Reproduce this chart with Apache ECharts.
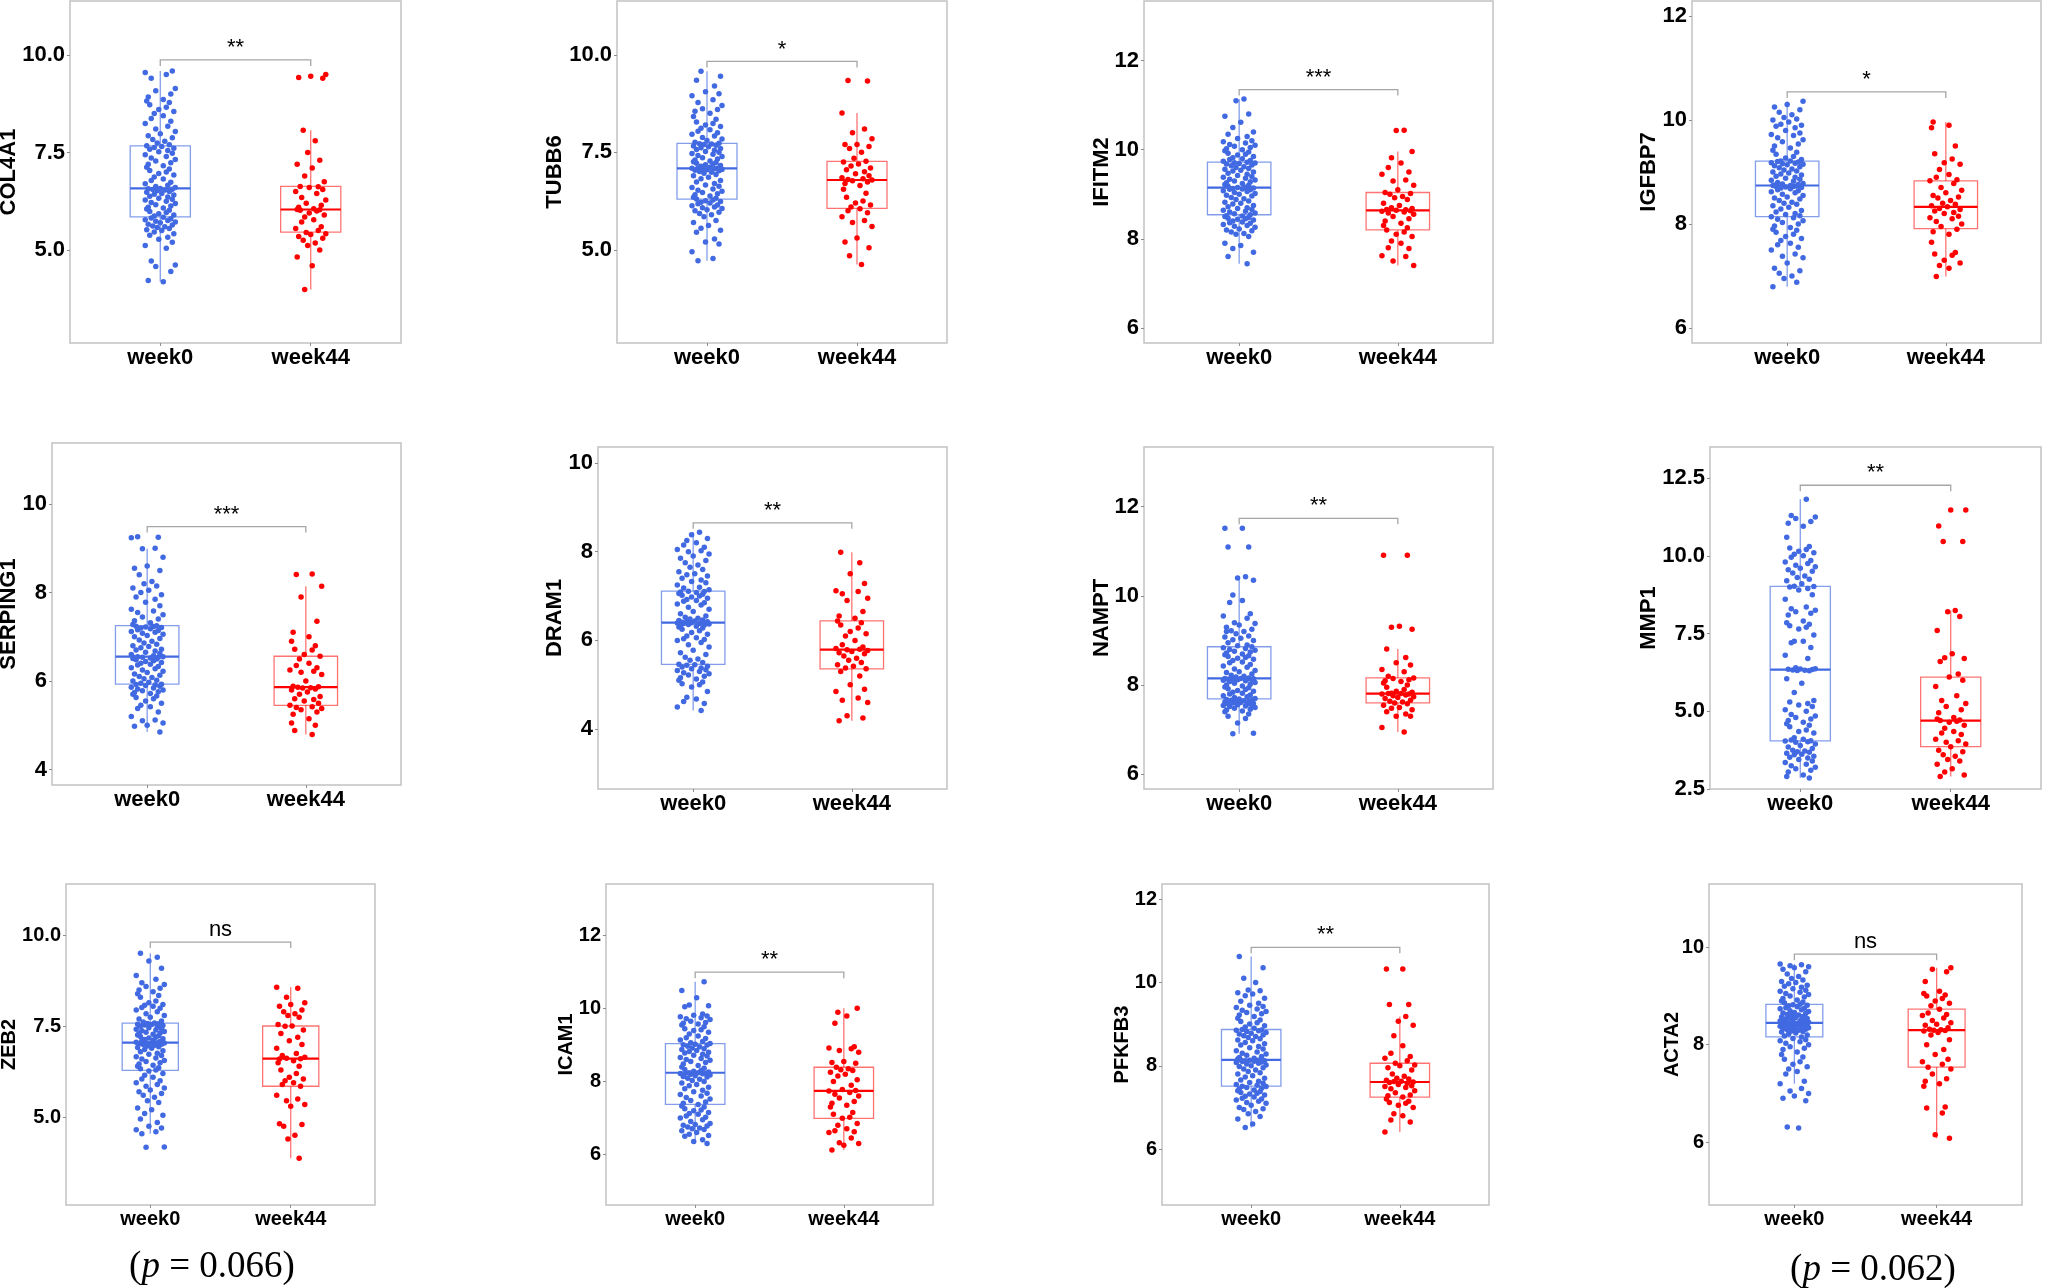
<!DOCTYPE html>
<html>
<head>
<meta charset="utf-8">
<script src="https://cdn.jsdelivr.net/npm/echarts@6/dist/echarts.min.js"></script>
<style>
html, body { margin: 0; padding: 0; background: #fff; }
#container { width: 2046px; height: 1288px; }
</style>
</head>
<body>
<div id="container"></div>
<script>
// groups and genes
var groups = ['week0', 'week44'];
var genes = ['COL4A1', 'TUBB6', 'IFITM2', 'IGFBP7', 'SERPING1', 'DRAM1', 'NAMPT', 'MMP1', 'ZEB2', 'ICAM1', 'PFKFB3', 'ACTA2'];
var signif = ['**', '*', '***', '*', '***', '**', '**', '**', 'ns', '**', '**', 'ns'];
var bracketY = [9.87, 9.83, 11.35, 10.54, 9.49, 8.65, 11.74, 12.27, 9.82, 11.0, 10.84, 9.86];
var yLimits = [[2.62, 11.38], [2.61, 11.38], [5.66, 13.34], [5.71, 12.29], [3.65, 11.38], [2.65, 10.36],
  [5.67, 13.34], [2.5, 13.5], [2.58, 11.42], [4.61, 13.42], [4.66, 12.36], [4.71, 11.3]];
var yTicks = [[5, 7.5, 10], [5, 7.5, 10], [6, 8, 10, 12], [6, 8, 10, 12], [4, 6, 8, 10], [4, 6, 8, 10],
  [6, 8, 10, 12], [2.5, 5, 7.5, 10, 12.5], [5, 7.5, 10], [6, 8, 10, 12], [6, 8, 10, 12], [6, 8, 10]];
var pValues = ['0.066', '0.062'];

// box statistics [lower whisker, Q1, median, Q3, upper whisker]
var col4a1Box = [[4.19, 5.85, 6.58, 7.67, 9.59], [3.99, 5.46, 6.04, 6.63, 8.07]];
var tubb6Box = [[4.72, 6.30, 7.09, 7.73, 9.58], [4.62, 6.06, 6.79, 7.27, 8.51]];
var ifitm2Box = [[7.44, 8.54, 9.15, 9.72, 11.14], [7.40, 8.20, 8.64, 9.04, 9.96]];
var igfbp7Box = [[6.79, 8.14, 8.74, 9.21, 10.36], [6.99, 7.91, 8.33, 8.83, 9.96]];
var serping1Box = [[4.85, 5.93, 6.55, 7.25, 8.99], [4.79, 5.45, 5.86, 6.56, 8.14]];
var dram1Box = [[4.42, 5.46, 6.40, 7.11, 8.44], [4.19, 5.36, 5.79, 6.44, 7.99]];
var namptBox = [[6.91, 7.69, 8.15, 8.86, 10.43], [6.95, 7.60, 7.81, 8.16, 8.81]];
var mmp1Box = [[2.85, 4.05, 6.34, 9.02, 11.82], [2.90, 3.86, 4.70, 6.10, 8.24]];
var zeb2Box = [[4.54, 6.29, 7.05, 7.59, 9.51], [3.87, 5.85, 6.61, 7.51, 8.58]];
var icam1Box = [[6.30, 7.37, 8.24, 9.04, 10.74], [6.12, 6.99, 7.74, 8.39, 10.01]];
var pfkfb3Box = [[6.52, 7.51, 8.14, 8.87, 10.62], [6.41, 7.25, 7.61, 8.06, 9.18]];
var acta2Box = [[7.20, 8.16, 8.45, 8.83, 9.66], [6.08, 7.54, 8.30, 8.73, 9.58]];

// sample values per gene
var col4a1W0 = [4.19, 4.22, 4.45, 4.58, 4.62, 4.72, 5.05, 5.12, 5.2, 5.28, 5.33, 5.38, 5.42, 5.46, 5.5, 5.52, 5.55, 5.58, 5.6, 5.62, 5.64, 5.66, 5.7, 5.72, 5.74, 5.76, 5.78, 5.8, 5.82, 5.84,
  5.87, 5.9, 5.93, 5.96, 5.99, 6.02, 6.05, 6.08, 6.1, 6.13, 6.16, 6.19, 6.22, 6.25, 6.28, 6.3, 6.33, 6.36, 6.38, 6.41, 6.43, 6.45, 6.48, 6.5, 6.52, 6.54, 6.55, 6.56, 6.57, 6.58,
  6.6, 6.63, 6.66, 6.7, 6.74, 6.78, 6.82, 6.87, 6.92, 6.96, 7.0, 7.04, 7.08, 7.12, 7.16, 7.2, 7.24, 7.28, 7.32, 7.36, 7.4, 7.44, 7.48, 7.52, 7.55, 7.58, 7.61, 7.63, 7.65, 7.67,
  7.7, 7.74, 7.79, 7.83, 7.88, 7.93, 7.98, 8.04, 8.1, 8.17, 8.24, 8.3, 8.37, 8.44, 8.5, 8.55, 8.6, 8.66, 8.72, 8.78, 8.82, 8.86, 8.92, 9.0, 9.08, 9.14, 9.4, 9.5, 9.55, 9.59];
var col4a1W44 = [3.99, 4.6, 4.82, 5.0, 5.12, 5.18, 5.25, 5.3, 5.35, 5.4, 5.42, 5.45, 5.5, 5.55, 5.6, 5.72, 5.78, 5.85, 5.9, 5.95, 6.0, 6.02, 6.03, 6.04,
  6.06, 6.1, 6.15, 6.2, 6.28, 6.35, 6.45, 6.5, 6.55, 6.6, 6.62, 6.63, 6.75, 6.9, 7.1, 7.2, 7.3, 7.5, 7.8, 8.07, 9.4, 9.42, 9.45, 9.5];
var tubb6W0 = [4.72, 4.78, 4.95, 5.15, 5.2, 5.28, 5.45, 5.5, 5.55, 5.62, 5.7, 5.75, 5.85, 5.9, 5.93, 5.96, 6.0, 6.03, 6.06, 6.08, 6.1, 6.13, 6.15, 6.18, 6.2, 6.22, 6.24, 6.26, 6.28, 6.3,
  6.32, 6.35, 6.38, 6.41, 6.44, 6.47, 6.5, 6.53, 6.56, 6.6, 6.63, 6.66, 6.7, 6.74, 6.78, 6.82, 6.86, 6.9, 6.93, 6.96, 6.99, 7.01, 7.03, 7.04, 7.05, 7.06, 7.07, 7.08, 7.09, 7.09,
  7.1, 7.12, 7.14, 7.16, 7.18, 7.2, 7.22, 7.24, 7.26, 7.28, 7.3, 7.33, 7.36, 7.39, 7.42, 7.45, 7.47, 7.5, 7.52, 7.55, 7.57, 7.6, 7.62, 7.64, 7.66, 7.68, 7.7, 7.71, 7.72, 7.73,
  7.76, 7.8, 7.84, 7.88, 7.92, 7.96, 8.0, 8.04, 8.08, 8.12, 8.16, 8.2, 8.24, 8.28, 8.35, 8.42, 8.5, 8.55, 8.6, 8.62, 8.7, 8.78, 8.85, 8.95, 9.0, 9.05, 9.2, 9.35, 9.45, 9.58];
var tubb6W44 = [4.62, 4.85, 5.05, 5.2, 5.3, 5.6, 5.7, 5.75, 5.85, 5.95, 6.0, 6.05, 6.1, 6.15, 6.2, 6.25, 6.35, 6.45, 6.55, 6.65, 6.7, 6.74, 6.77, 6.79,
  6.8, 6.82, 6.85, 6.9, 6.95, 7.0, 7.05, 7.1, 7.15, 7.2, 7.25, 7.27, 7.35, 7.5, 7.6, 7.65, 7.7, 7.7, 7.85, 8.0, 8.1, 8.51, 9.33, 9.34];
var ifitm2W0 = [7.44, 7.6, 7.7, 7.78, 7.85, 7.9, 8.05, 8.1, 8.12, 8.15, 8.18, 8.2, 8.22, 8.26, 8.28, 8.3, 8.32, 8.35, 8.36, 8.38, 8.4, 8.42, 8.44, 8.45, 8.46, 8.48, 8.5, 8.51, 8.52, 8.54,
  8.56, 8.58, 8.6, 8.62, 8.64, 8.66, 8.68, 8.7, 8.72, 8.75, 8.78, 8.8, 8.82, 8.85, 8.88, 8.9, 8.93, 8.96, 8.98, 9.0, 9.02, 9.04, 9.06, 9.08, 9.1, 9.11, 9.12, 9.13, 9.14, 9.15,
  9.16, 9.18, 9.2, 9.22, 9.24, 9.26, 9.28, 9.3, 9.32, 9.34, 9.36, 9.38, 9.4, 9.42, 9.45, 9.47, 9.5, 9.52, 9.54, 9.56, 9.58, 9.6, 9.62, 9.64, 9.66, 9.68, 9.69, 9.7, 9.71, 9.72,
  9.74, 9.76, 9.78, 9.8, 9.82, 9.85, 9.88, 9.9, 9.92, 9.95, 9.98, 10.0, 10.02, 10.05, 10.08, 10.1, 10.12, 10.15, 10.18, 10.2, 10.25, 10.3, 10.35, 10.4, 10.5, 10.62, 10.75, 10.8, 11.1, 11.14];
var ifitm2W44 = [7.4, 7.5, 7.6, 7.62, 7.78, 7.8, 7.9, 7.95, 8.05, 8.1, 8.15, 8.2, 8.25, 8.3, 8.35, 8.4, 8.45, 8.5, 8.55, 8.58, 8.6, 8.62, 8.63, 8.64,
  8.65, 8.66, 8.68, 8.7, 8.75, 8.8, 8.88, 8.92, 8.95, 9.0, 9.02, 9.04, 9.1, 9.2, 9.3, 9.32, 9.45, 9.5, 9.6, 9.7, 9.82, 9.96, 10.43, 10.44];
var igfbp7W0 = [6.79, 6.88, 6.95, 7.0, 7.05, 7.1, 7.15, 7.25, 7.35, 7.38, 7.42, 7.5, 7.55, 7.6, 7.63, 7.68, 7.72, 7.76, 7.8, 7.84, 7.88, 7.9, 7.93, 7.96, 8.0, 8.03, 8.06, 8.09, 8.12, 8.14,
  8.16, 8.18, 8.2, 8.23, 8.26, 8.29, 8.32, 8.35, 8.38, 8.4, 8.42, 8.45, 8.48, 8.5, 8.52, 8.55, 8.57, 8.6, 8.62, 8.64, 8.66, 8.68, 8.69, 8.7, 8.71, 8.72, 8.72, 8.73, 8.74, 8.74,
  8.75, 8.76, 8.77, 8.78, 8.8, 8.82, 8.84, 8.86, 8.88, 8.9, 8.92, 8.94, 8.96, 8.98, 9.0, 9.02, 9.04, 9.06, 9.08, 9.1, 9.12, 9.14, 9.15, 9.16, 9.17, 9.18, 9.19, 9.2, 9.21, 9.21,
  9.24, 9.27, 9.3, 9.34, 9.38, 9.42, 9.46, 9.5, 9.54, 9.58, 9.62, 9.66, 9.7, 9.72, 9.75, 9.8, 9.85, 9.88, 9.9, 9.92, 9.96, 10.0, 10.02, 10.05, 10.1, 10.15, 10.2, 10.25, 10.3, 10.36];
var igfbp7W44 = [6.99, 7.15, 7.2, 7.25, 7.3, 7.4, 7.42, 7.45, 7.65, 7.8, 7.85, 7.9, 7.95, 8.0, 8.05, 8.1, 8.12, 8.15, 8.2, 8.22, 8.25, 8.28, 8.3, 8.33,
  8.35, 8.38, 8.4, 8.45, 8.5, 8.52, 8.55, 8.6, 8.65, 8.7, 8.78, 8.83, 8.85, 8.9, 8.95, 9.05, 9.15, 9.18, 9.25, 9.35, 9.5, 9.85, 9.9, 9.96];
var serping1W0 = [4.85, 4.98, 5.0, 5.05, 5.1, 5.12, 5.2, 5.3, 5.38, 5.42, 5.45, 5.5, 5.55, 5.6, 5.63, 5.66, 5.7, 5.72, 5.74, 5.76, 5.78, 5.8, 5.82, 5.84, 5.86, 5.88, 5.9, 5.91, 5.92, 5.93,
  5.95, 5.97, 6.0, 6.02, 6.05, 6.08, 6.1, 6.13, 6.16, 6.19, 6.22, 6.25, 6.28, 6.3, 6.33, 6.36, 6.38, 6.4, 6.42, 6.44, 6.46, 6.48, 6.5, 6.51, 6.52, 6.53, 6.54, 6.54, 6.55, 6.55,
  6.57, 6.6, 6.62, 6.65, 6.68, 6.7, 6.72, 6.75, 6.78, 6.8, 6.83, 6.86, 6.9, 6.93, 6.96, 7.0, 7.03, 7.06, 7.08, 7.1, 7.12, 7.14, 7.16, 7.18, 7.2, 7.21, 7.22, 7.23, 7.24, 7.25,
  7.28, 7.32, 7.36, 7.4, 7.45, 7.5, 7.55, 7.58, 7.62, 7.7, 7.78, 7.85, 7.9, 7.95, 8.0, 8.05, 8.1, 8.15, 8.2, 8.25, 8.4, 8.5, 8.55, 8.6, 8.8, 8.99, 9.0, 9.24, 9.25, 9.26];
var serping1W44 = [4.79, 4.88, 5.0, 5.05, 5.15, 5.25, 5.3, 5.35, 5.38, 5.4, 5.42, 5.45, 5.5, 5.55, 5.58, 5.6, 5.65, 5.7, 5.75, 5.8, 5.82, 5.84, 5.85, 5.86,
  5.87, 5.88, 6.0, 6.15, 6.2, 6.22, 6.25, 6.3, 6.35, 6.4, 6.5, 6.56, 6.6, 6.7, 6.72, 6.8, 6.9, 7.0, 7.1, 7.35, 7.9, 8.14, 8.41, 8.42];
var dram1W0 = [4.42, 4.5, 4.58, 4.62, 4.68, 4.72, 4.85, 4.95, 5.0, 5.02, 5.06, 5.1, 5.13, 5.16, 5.19, 5.22, 5.25, 5.27, 5.3, 5.32, 5.34, 5.36, 5.38, 5.4, 5.42, 5.44, 5.45, 5.46, 5.5, 5.55,
  5.58, 5.62, 5.68, 5.72, 5.78, 5.85, 5.9, 5.95, 6.0, 6.02, 6.04, 6.06, 6.1, 6.14, 6.18, 6.22, 6.25, 6.28, 6.3, 6.32, 6.34, 6.35, 6.36, 6.37, 6.38, 6.38, 6.39, 6.39, 6.4, 6.4,
  6.41, 6.42, 6.43, 6.44, 6.45, 6.46, 6.48, 6.5, 6.52, 6.55, 6.6, 6.65, 6.7, 6.75, 6.8, 6.82, 6.85, 6.88, 6.9, 6.92, 6.95, 6.98, 7.0, 7.02, 7.04, 7.06, 7.08, 7.09, 7.1, 7.11,
  7.14, 7.18, 7.2, 7.25, 7.3, 7.33, 7.36, 7.4, 7.45, 7.48, 7.5, 7.55, 7.6, 7.65, 7.7, 7.75, 7.8, 7.85, 7.9, 7.95, 8.0, 8.02, 8.05, 8.1, 8.15, 8.2, 8.25, 8.3, 8.38, 8.44];
var dram1W44 = [4.19, 4.25, 4.3, 4.6, 4.65, 4.7, 4.85, 4.9, 5.0, 5.2, 5.3, 5.36, 5.38, 5.42, 5.45, 5.5, 5.55, 5.6, 5.65, 5.7, 5.72, 5.75, 5.77, 5.79,
  5.8, 5.82, 5.85, 5.9, 6.0, 6.1, 6.15, 6.2, 6.28, 6.35, 6.4, 6.44, 6.5, 6.55, 6.65, 6.9, 6.95, 7.05, 7.1, 7.12, 7.28, 7.5, 7.75, 7.99];
var namptW0 = [6.91, 6.92, 7.15, 7.25, 7.3, 7.35, 7.4, 7.42, 7.44, 7.46, 7.48, 7.5, 7.52, 7.53, 7.54, 7.55, 7.56, 7.57, 7.58, 7.59, 7.6, 7.61, 7.62, 7.63, 7.64, 7.65, 7.66, 7.67, 7.68, 7.69,
  7.7, 7.72, 7.74, 7.76, 7.78, 7.8, 7.82, 7.84, 7.86, 7.88, 7.9, 7.92, 7.94, 7.96, 7.98, 8.0, 8.02, 8.04, 8.06, 8.08, 8.1, 8.11, 8.12, 8.12, 8.13, 8.13, 8.14, 8.14, 8.15, 8.15,
  8.16, 8.18, 8.2, 8.22, 8.25, 8.28, 8.3, 8.33, 8.36, 8.4, 8.43, 8.46, 8.5, 8.52, 8.55, 8.58, 8.6, 8.62, 8.64, 8.66, 8.68, 8.7, 8.72, 8.74, 8.76, 8.78, 8.8, 8.82, 8.84, 8.86,
  8.88, 8.9, 8.95, 9.0, 9.02, 9.05, 9.08, 9.1, 9.15, 9.2, 9.22, 9.25, 9.3, 9.35, 9.38, 9.4, 9.5, 9.55, 9.6, 9.85, 9.9, 10.02, 10.35, 10.4, 10.43, 11.1, 11.1, 11.52, 11.52, 9.2];
var namptW44 = [6.95, 7.05, 7.3, 7.3, 7.35, 7.4, 7.45, 7.48, 7.5, 7.55, 7.58, 7.6, 7.62, 7.64, 7.66, 7.7, 7.72, 7.74, 7.76, 7.78, 7.8, 7.8, 7.81, 7.81,
  7.82, 7.84, 7.86, 7.9, 7.95, 8.0, 8.05, 8.08, 8.1, 8.12, 8.15, 8.16, 8.2, 8.3, 8.35, 8.45, 8.5, 8.62, 8.81, 9.25, 9.3, 9.32, 10.91, 10.91];
var mmp1W0 = [2.85, 2.9, 2.95, 3.05, 3.1, 3.15, 3.2, 3.25, 3.3, 3.35, 3.4, 3.45, 3.5, 3.52, 3.55, 3.6, 3.62, 3.65, 3.68, 3.7, 3.72, 3.75, 3.8, 3.85, 3.9, 3.95, 4.0, 4.02, 4.04, 4.05,
  4.08, 4.1, 4.15, 4.3, 4.35, 4.4, 4.5, 4.55, 4.6, 4.65, 4.7, 4.75, 4.8, 4.85, 4.9, 5.0, 5.05, 5.15, 5.2, 5.25, 5.3, 5.35, 5.6, 5.9, 6.05, 6.3, 6.31, 6.32, 6.33, 6.34,
  6.35, 6.36, 6.37, 6.4, 6.7, 6.8, 7.05, 7.2, 7.25, 7.25, 7.45, 7.65, 7.7, 7.75, 7.8, 7.85, 7.9, 8.1, 8.15, 8.2, 8.25, 8.3, 8.35, 8.6, 8.75, 8.9, 8.95, 9.0, 9.01, 9.02,
  9.1, 9.2, 9.25, 9.3, 9.35, 9.45, 9.5, 9.55, 9.6, 9.65, 9.7, 9.75, 9.8, 9.85, 9.95, 10.0, 10.05, 10.1, 10.15, 10.2, 10.25, 10.3, 10.6, 10.95, 11.05, 11.1, 11.2, 11.25, 11.3, 11.82];
var mmp1W44 = [2.9, 2.95, 3.05, 3.15, 3.3, 3.4, 3.45, 3.55, 3.6, 3.7, 3.75, 3.86, 3.95, 4.0, 4.05, 4.1, 4.25, 4.3, 4.35, 4.45, 4.55, 4.65, 4.68, 4.7,
  4.72, 4.75, 4.8, 4.95, 5.05, 5.15, 5.25, 5.35, 5.5, 5.8, 6.0, 6.1, 6.2, 6.6, 6.7, 6.72, 6.85, 7.6, 8.05, 8.2, 8.24, 10.46, 10.46, 10.96, 11.47, 11.47];
var zeb2W0 = [4.17, 4.18, 4.54, 4.6, 4.65, 4.7, 4.75, 4.85, 4.95, 5.05, 5.1, 5.2, 5.25, 5.4, 5.45, 5.55, 5.6, 5.65, 5.7, 5.75, 5.8, 5.85, 5.9, 5.95, 6.0, 6.05, 6.1, 6.15, 6.2, 6.27,
  6.3, 6.33, 6.36, 6.4, 6.43, 6.46, 6.5, 6.53, 6.56, 6.6, 6.63, 6.66, 6.7, 6.73, 6.76, 6.8, 6.83, 6.86, 6.9, 6.92, 6.94, 6.96, 6.98, 7.0, 7.01, 7.02, 7.03, 7.04, 7.05, 7.05,
  7.06, 7.08, 7.1, 7.12, 7.14, 7.16, 7.18, 7.2, 7.22, 7.24, 7.26, 7.28, 7.3, 7.32, 7.34, 7.36, 7.38, 7.4, 7.42, 7.44, 7.46, 7.48, 7.5, 7.52, 7.54, 7.55, 7.56, 7.57, 7.58, 7.59,
  7.62, 7.65, 7.7, 7.75, 7.8, 7.85, 7.9, 7.95, 8.0, 8.02, 8.05, 8.08, 8.1, 8.15, 8.2, 8.3, 8.35, 8.4, 8.45, 8.5, 8.55, 8.6, 8.65, 8.7, 8.8, 8.9, 9.1, 9.3, 9.4, 9.51];
var zeb2W44 = [3.87, 4.4, 4.5, 4.75, 4.8, 4.82, 5.3, 5.35, 5.45, 5.5, 5.6, 5.85, 5.9, 5.95, 6.0, 6.05, 6.1, 6.2, 6.3, 6.4, 6.5, 6.55, 6.6, 6.61,
  6.62, 6.65, 6.7, 6.75, 6.9, 7.0, 7.1, 7.2, 7.3, 7.4, 7.5, 7.51, 7.55, 7.75, 7.8, 7.85, 7.9, 7.95, 8.05, 8.1, 8.15, 8.3, 8.55, 8.58];
var icam1W0 = [6.3, 6.35, 6.4, 6.5, 6.52, 6.55, 6.6, 6.65, 6.68, 6.7, 6.72, 6.75, 6.78, 6.8, 6.82, 6.85, 6.9, 6.95, 7.0, 7.02, 7.05, 7.1, 7.12, 7.15, 7.2, 7.22, 7.25, 7.3, 7.33, 7.37,
  7.4, 7.44, 7.48, 7.52, 7.56, 7.6, 7.64, 7.68, 7.72, 7.76, 7.8, 7.84, 7.88, 7.92, 7.96, 8.0, 8.03, 8.06, 8.09, 8.12, 8.14, 8.16, 8.18, 8.2, 8.21, 8.22, 8.22, 8.23, 8.24, 8.24,
  8.26, 8.28, 8.3, 8.33, 8.36, 8.4, 8.44, 8.48, 8.52, 8.55, 8.58, 8.6, 8.63, 8.66, 8.7, 8.72, 8.75, 8.78, 8.8, 8.82, 8.85, 8.88, 8.9, 8.92, 8.95, 8.97, 9.0, 9.01, 9.02, 9.04,
  9.06, 9.1, 9.14, 9.18, 9.2, 9.25, 9.3, 9.35, 9.4, 9.42, 9.45, 9.5, 9.55, 9.58, 9.6, 9.62, 9.65, 9.7, 9.72, 9.75, 9.78, 9.8, 9.82, 9.85, 10.05, 10.08, 10.1, 10.3, 10.5, 10.74];
var icam1W44 = [6.12, 6.25, 6.3, 6.32, 6.45, 6.6, 6.62, 6.65, 6.7, 6.8, 6.85, 6.99, 7.02, 7.1, 7.15, 7.3, 7.35, 7.4, 7.45, 7.55, 7.6, 7.65, 7.7, 7.74,
  7.75, 7.78, 7.9, 8.0, 8.05, 8.15, 8.2, 8.25, 8.3, 8.32, 8.35, 8.39, 8.5, 8.52, 8.55, 8.8, 8.85, 8.9, 8.92, 8.95, 9.6, 9.8, 9.9, 10.01];
var pfkfb3W0 = [6.52, 6.6, 6.72, 6.78, 6.85, 6.9, 6.95, 6.97, 7.0, 7.05, 7.1, 7.12, 7.15, 7.18, 7.2, 7.22, 7.25, 7.27, 7.3, 7.32, 7.34, 7.36, 7.38, 7.4, 7.42, 7.44, 7.46, 7.48, 7.5, 7.51,
  7.53, 7.55, 7.58, 7.6, 7.63, 7.66, 7.7, 7.73, 7.76, 7.8, 7.83, 7.86, 7.9, 7.92, 7.95, 7.98, 8.0, 8.02, 8.04, 8.06, 8.08, 8.09, 8.1, 8.11, 8.12, 8.12, 8.13, 8.13, 8.14, 8.14,
  8.16, 8.18, 8.2, 8.22, 8.25, 8.28, 8.3, 8.33, 8.36, 8.4, 8.43, 8.46, 8.5, 8.53, 8.56, 8.6, 8.62, 8.65, 8.68, 8.7, 8.72, 8.74, 8.76, 8.78, 8.8, 8.82, 8.84, 8.85, 8.86, 8.87,
  8.9, 8.93, 8.96, 9.0, 9.03, 9.06, 9.1, 9.14, 9.18, 9.22, 9.25, 9.28, 9.3, 9.33, 9.36, 9.4, 9.42, 9.45, 9.5, 9.55, 9.62, 9.68, 9.72, 9.75, 9.8, 9.82, 10.0, 10.1, 10.35, 10.62];
var pfkfb3W44 = [6.41, 6.65, 6.7, 6.8, 6.85, 7.0, 7.05, 7.1, 7.12, 7.15, 7.2, 7.25, 7.28, 7.3, 7.35, 7.4, 7.45, 7.48, 7.5, 7.52, 7.55, 7.58, 7.6, 7.61,
  7.62, 7.63, 7.65, 7.68, 7.7, 7.75, 7.8, 7.9, 7.95, 8.0, 8.02, 8.06, 8.12, 8.18, 8.22, 8.3, 8.48, 8.72, 8.97, 9.07, 9.18, 9.47, 9.47, 10.32, 10.32];
var acta2W0 = [6.29, 6.31, 6.85, 6.9, 6.95, 7.0, 7.05, 7.1, 7.2, 7.25, 7.4, 7.45, 7.5, 7.55, 7.6, 7.65, 7.7, 7.75, 7.8, 7.85, 7.9, 7.93, 7.96, 8.0, 8.03, 8.06, 8.08, 8.1, 8.13, 8.16,
  8.18, 8.2, 8.22, 8.24, 8.26, 8.27, 8.28, 8.3, 8.31, 8.32, 8.33, 8.34, 8.35, 8.36, 8.37, 8.38, 8.39, 8.4, 8.4, 8.41, 8.42, 8.42, 8.43, 8.43, 8.44, 8.44, 8.44, 8.45, 8.45, 8.45,
  8.46, 8.47, 8.48, 8.49, 8.5, 8.51, 8.52, 8.53, 8.54, 8.55, 8.56, 8.57, 8.58, 8.6, 8.61, 8.62, 8.64, 8.65, 8.66, 8.68, 8.7, 8.72, 8.74, 8.75, 8.76, 8.78, 8.8, 8.81, 8.82, 8.83,
  8.86, 8.88, 8.9, 8.92, 8.95, 8.98, 9.0, 9.03, 9.05, 9.08, 9.1, 9.12, 9.15, 9.18, 9.2, 9.22, 9.25, 9.28, 9.3, 9.33, 9.36, 9.4, 9.45, 9.5, 9.55, 9.58, 9.6, 9.62, 9.64, 9.66];
var acta2W44 = [6.08, 6.15, 6.6, 6.7, 6.72, 7.15, 7.2, 7.25, 7.3, 7.4, 7.5, 7.54, 7.6, 7.65, 7.7, 7.8, 7.9, 8.0, 8.1, 8.2, 8.25, 8.28, 8.29, 8.3,
  8.31, 8.32, 8.35, 8.4, 8.42, 8.45, 8.5, 8.55, 8.6, 8.62, 8.65, 8.73, 8.8, 8.85, 8.9, 8.95, 9.0, 9.02, 9.05, 9.1, 9.3, 9.5, 9.55, 9.58];

var boxSets = [col4a1Box, tubb6Box, ifitm2Box, igfbp7Box, serping1Box, dram1Box, namptBox, mmp1Box, zeb2Box, icam1Box, pfkfb3Box, acta2Box];
var week0Sets = [col4a1W0, tubb6W0, ifitm2W0, igfbp7W0, serping1W0, dram1W0, namptW0, mmp1W0, zeb2W0, icam1W0, pfkfb3W0, acta2W0];
var week44Sets = [col4a1W44, tubb6W44, ifitm2W44, igfbp7W44, serping1W44, dram1W44, namptW44, mmp1W44, zeb2W44, icam1W44, pfkfb3W44, acta2W44];

// layout of the 12 panels (pixels)
var panels = [
  { l: 70, t: 1, w: 331, h: 342, gap: 50, fs: 22 },
  { l: 617, t: 1, w: 330, h: 342, gap: 51, fs: 22 },
  { l: 1144, t: 1, w: 349, h: 342, gap: 31, fs: 22 },
  { l: 1692, t: 1, w: 349, h: 342, gap: 32, fs: 22 },
  { l: 52, t: 443, w: 349, h: 342, gap: 32, fs: 22 },
  { l: 598, t: 447, w: 349, h: 342, gap: 32, fs: 22 },
  { l: 1144, t: 447, w: 349, h: 342, gap: 31, fs: 22 },
  { l: 1710, t: 447, w: 331, h: 342, gap: 50, fs: 22 },
  { l: 66, t: 884, w: 309, h: 321, gap: 47, fs: 20 },
  { l: 606, t: 884, w: 327, h: 321, gap: 30, fs: 20 },
  { l: 1162, t: 884, w: 327, h: 321, gap: 30, fs: 20 },
  { l: 1709, t: 884, w: 313, h: 321, gap: 27, fs: 20 }
];
var pNotePos = [[212, 1267], [1873, 1270]];

// horizontal jitter offsets for the points
var jitter = [0.02, -0.08, 0.07, -0.03, 0.1, -0.06, 0.04, -0.1, 0.08, -0.01, 0.05, -0.07, 0.09, -0.04, 0.01, -0.09, 0.06, -0.02, 0.03,
  -0.05, 0.08, -0.08, 0.0, 0.1, -0.03, 0.05, -0.1, 0.07, -0.06, 0.02, -0.04, 0.09, -0.01, 0.04, -0.07, 0.06, -0.09];

var COLORS = ['#4169E1', '#FF0000'];
var SOFT = ['rgba(65,105,225,0.65)', 'rgba(255,0,0,0.55)'];
var FONT = '"Liberation Sans", Arial, Helvetica, sans-serif';
var SERIF = '"Liberation Serif", "Times New Roman", serif';

var dom = document.getElementById('container');
var myChart = echarts.init(dom, null, { renderer: 'canvas' });

function renderBox(params, api) {
  var x = api.value(0);
  var k = params.dataIndex;
  var left = api.coord([x - 0.2, api.value(3)])[0];
  var right = api.coord([x + 0.2, api.value(3)])[0];
  var xc = api.coord([x, api.value(3)])[0];
  var yLo = api.coord([x, api.value(1)])[1];
  var yQ1 = api.coord([x, api.value(2)])[1];
  var yMed = api.coord([x, api.value(3)])[1];
  var yQ3 = api.coord([x, api.value(4)])[1];
  var yHi = api.coord([x, api.value(5)])[1];
  var soft = { stroke: SOFT[k], lineWidth: 1.3, fill: null };
  return {
    type: 'group',
    children: [
      { type: 'line', shape: { x1: xc, y1: yQ3, x2: xc, y2: yHi }, style: soft },
      { type: 'line', shape: { x1: xc, y1: yQ1, x2: xc, y2: yLo }, style: soft },
      { type: 'rect', shape: { x: left, y: yQ3, width: right - left, height: yQ1 - yQ3 }, style: soft },
      { type: 'line', shape: { x1: left, y1: yMed, x2: right, y2: yMed }, style: { stroke: COLORS[k], lineWidth: 2.2 } }
    ]
  };
}

var option = { animation: false, backgroundColor: '#fff', grid: [], xAxis: [], yAxis: [], series: [], graphic: [] };

panels.forEach(function (p, i) {
  var oneDecimal = yTicks[i].some(function (v) { return v % 1 !== 0; });
  option.grid.push({
    left: p.l, top: p.t, width: p.w, height: p.h, show: true,
    borderColor: '#C2C2C2', borderWidth: 1.5, containLabel: false, outerBoundsMode: 'none'
  });
  option.xAxis.push({
    gridIndex: i, type: 'value', min: 0.4, max: 2.6,
    axisLine: { show: false }, splitLine: { show: false },
    axisTick: { show: true, length: 3, customValues: [1, 2], lineStyle: { color: '#8C8C8C' } },
    axisLabel: {
      customValues: [1, 2], margin: 4, color: '#000', fontSize: p.fs, fontWeight: 'bold', fontFamily: FONT,
      formatter: function (v) { return groups[Math.round(v) - 1]; }
    }
  });
  option.yAxis.push({
    gridIndex: i, type: 'value', min: yLimits[i][0], max: yLimits[i][1],
    name: genes[i], nameLocation: 'middle', nameGap: p.gap, nameMoveOverlap: false,
    nameTextStyle: { color: '#000', fontSize: p.fs, fontWeight: 'bold', fontFamily: FONT },
    axisLine: { show: false }, splitLine: { show: false },
    axisTick: { show: true, length: 3, customValues: yTicks[i], lineStyle: { color: '#8C8C8C' } },
    axisLabel: {
      customValues: yTicks[i], margin: 5, color: '#000', fontSize: p.fs, fontWeight: 'bold', fontFamily: FONT,
      formatter: function (v) { return oneDecimal ? v.toFixed(1) : String(v); }
    }
  });

  // boxes
  option.series.push({
    type: 'custom', xAxisIndex: i, yAxisIndex: i, silent: true, z: 2,
    renderItem: renderBox,
    data: boxSets[i].map(function (b, k) { return [k + 1].concat(b); })
  });
  // jittered points
  [week0Sets[i], week44Sets[i]].forEach(function (vals, g) {
    option.series.push({
      type: 'scatter', xAxisIndex: i, yAxisIndex: i, silent: true, z: 3,
      symbolSize: 5.5, itemStyle: { color: COLORS[g], opacity: 1 },
      data: vals.map(function (v, k) {
        return [g + 1 + jitter[(k + i * 5 + g * 13) % jitter.length], v];
      })
    });
  });
  // significance bracket
  option.series.push({
    type: 'custom', xAxisIndex: i, yAxisIndex: i, silent: true, z: 4,
    renderItem: function (params, api) {
      var p1 = api.coord([api.value(0), api.value(2)]);
      var p2 = api.coord([api.value(1), api.value(2)]);
      return {
        type: 'group',
        children: [
          { type: 'polyline', shape: { points: [[p1[0], p1[1] + 6], p1, p2, [p2[0], p2[1] + 6]] },
            style: { stroke: '#A6A6A6', lineWidth: 1.3, fill: null } },
          { type: 'text', style: { text: signif[i], x: (p1[0] + p2[0]) / 2, y: p1[1] - 1,
            align: 'center', verticalAlign: 'bottom', fontSize: 22, fontFamily: FONT, fill: '#000' } }
        ]
      };
    },
    data: [[1, 2, bracketY[i]]]
  });
});

// p-value notes under ZEB2 and ACTA2
pValues.forEach(function (pv, n) {
  option.graphic.push({
    type: 'text', x: pNotePos[n][0], y: pNotePos[n][1], silent: true,
    style: {
      text: '{a|(}{b|p}{a| = ' + pv + ')}',
      align: 'center', verticalAlign: 'middle',
      rich: {
        a: { fontFamily: SERIF, fontSize: 37, fill: '#000', color: '#000' },
        b: { fontFamily: SERIF, fontSize: 37, fontStyle: 'italic', fill: '#000', color: '#000' }
      }
    }
  });
});

myChart.setOption(option);
</script>
</body>
</html>
